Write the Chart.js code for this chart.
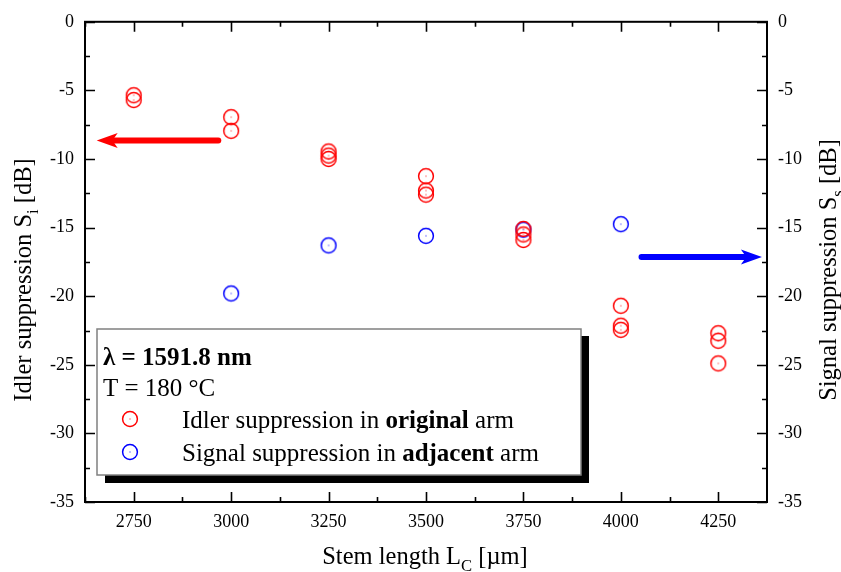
<!DOCTYPE html>
<html>
<head>
<meta charset="utf-8">
<script src="https://cdn.jsdelivr.net/npm/chart.js@4.4.1/dist/chart.umd.min.js"></script>
<style>
  html, body { margin: 0; padding: 0; background: #fff; }
  canvas { display: block; }
</style>
</head>
<body>
<canvas id="chart" width="841" height="572"></canvas>
<script>
// Stem length ticks and measured suppression values
const stemTicks = [2750, 3000, 3250, 3500, 3750, 4000, 4250];
const idlerStem = [2750, 2750, 3000, 3000, 3250, 3250, 3250, 3500, 3500, 3500,
                   3750, 3750, 3750, 4000, 4000, 4000, 4250, 4250, 4250];
const idlerDb = [-5.35, -5.7, -6.95, -7.95, -9.45, -9.75, -10.0, -11.25, -12.3, -12.6,
                 -15.1, -15.5, -15.9, -20.7, -22.15, -22.45, -22.7, -23.25, -24.9];
const signalStem = [3000, 3250, 3500, 3750, 4000];
const signalDb = [-19.8, -16.3, -15.6, -15.15, -14.75];

const FONT = "'Liberation Serif', 'Times New Roman', serif";
const RED = '#ff0000';
const BLUE = '#0000ff';

// open circle with a dot in the middle
function ringMarker(color) {
  const c = document.createElement('canvas');
  c.width = 20; c.height = 20;
  const g = c.getContext('2d');
  g.strokeStyle = color;
  g.lineWidth = 1.5;
  g.beginPath();
  g.arc(10, 10, 7.4, 0, Math.PI * 2);
  g.stroke();
  g.fillStyle = color;
  g.fillRect(9.5, 9.5, 1, 1);
  return c;
}
const redRing = ringMarker(RED);
const blueRing = ringMarker(BLUE);

const toPoints = (xs, ys) => xs.map((x, i) => ({ x: x, y: ys[i] }));

// text runs with optional bold / subscript parts
function drawRuns(ctx, runs, x, y, size, align) {
  const fontFor = r => (r.bold ? 'bold ' : '') + (r.sub ? size * 0.68 : size) + 'px ' + FONT;
  let total = 0;
  runs.forEach(r => { ctx.font = fontFor(r); total += ctx.measureText(r.text).width; });
  let cx = align === 'center' ? x - total / 2 : x;
  ctx.textAlign = 'left';
  ctx.textBaseline = 'alphabetic';
  runs.forEach(r => {
    ctx.font = fontFor(r);
    ctx.fillText(r.text, cx, y + (r.sub ? size * 0.3 : 0));
    cx += ctx.measureText(r.text).width;
  });
}

function drawArrow(ctx, x0, y0, x1, y1, color) {
  const dir = Math.sign(x1 - x0);
  const headLen = 21, halfW = 7.5;
  ctx.save();
  ctx.strokeStyle = color;
  ctx.fillStyle = color;
  ctx.lineWidth = 6;
  ctx.lineCap = 'round';
  ctx.beginPath();
  ctx.moveTo(x0, y0);
  ctx.lineTo(x1 - dir * headLen * 0.7, y1);
  ctx.stroke();
  ctx.beginPath();
  ctx.moveTo(x1, y1);
  ctx.lineTo(x1 - dir * headLen, y1 - halfW);
  ctx.lineTo(x1 - dir * headLen * 0.75, y1);
  ctx.lineTo(x1 - dir * headLen, y1 + halfW);
  ctx.closePath();
  ctx.fill();
  ctx.restore();
}

// arrows pointing at the axis each series belongs to (data units)
const arrows = [
  { from: [2967, -8.66], to: [2655, -8.66], color: RED, axis: 'y' },
  { from: [4053, -17.15], to: [4362, -17.15], color: BLUE, axis: 'y2' }
];

const framePlugin = {
  id: 'frame',
  afterDatasetsDraw(chart) {
    const { ctx, chartArea: a, scales } = chart;
    const x = scales.x, y = scales.y;
    ctx.save();
    ctx.strokeStyle = '#000';
    ctx.lineWidth = 2;
    ctx.strokeRect(a.left, a.top, a.right - a.left, a.bottom - a.top);

    // inward ticks, major and minor, on all four sides
    ctx.lineWidth = 1.6;
    ctx.beginPath();
    stemTicks.forEach(v => {
      [[v, 10], [v + 125, 5]].forEach(([val, len]) => {
        if (val >= x.max) return;
        const px = Math.round(x.getPixelForValue(val)) + 0.5;
        ctx.moveTo(px, a.bottom); ctx.lineTo(px, a.bottom - len);
        ctx.moveTo(px, a.top); ctx.lineTo(px, a.top + len);
      });
    });
    const v0 = stemTicks[0] - 125;
    const p0 = Math.round(x.getPixelForValue(v0)) + 0.5;
    ctx.moveTo(p0, a.bottom); ctx.lineTo(p0, a.bottom - 5);
    ctx.moveTo(p0, a.top); ctx.lineTo(p0, a.top + 5);
    for (let v = -35; v <= 0; v += 2.5) {
      const len = v % 5 === 0 ? 10 : 5;
      const py = Math.round(y.getPixelForValue(v)) + 0.5;
      ctx.moveTo(a.left, py); ctx.lineTo(a.left + len, py);
      ctx.moveTo(a.right, py); ctx.lineTo(a.right - len, py);
    }
    ctx.stroke();

    arrows.forEach(ar => {
      const ys = scales[ar.axis];
      drawArrow(ctx,
        x.getPixelForValue(ar.from[0]), ys.getPixelForValue(ar.from[1]),
        x.getPixelForValue(ar.to[0]), ys.getPixelForValue(ar.to[1]), ar.color);
    });
    ctx.restore();
  },
  afterDraw(chart) {
    const { ctx, chartArea: a } = chart;
    ctx.save();
    ctx.fillStyle = '#000';

    // axis titles
    drawRuns(ctx, [{ text: 'Stem length L' }, { text: 'C', sub: true }, { text: ' [µm]' }],
      425, 564, 24.5, 'center');

    ctx.save();
    ctx.translate(31, 280);
    ctx.rotate(-Math.PI / 2);
    drawRuns(ctx, [{ text: 'Idler suppression S' }, { text: 'i', sub: true }, { text: ' [dB]' }],
      0, 0, 24.5, 'center');
    ctx.restore();

    ctx.save();
    ctx.translate(836, 270);
    ctx.rotate(-Math.PI / 2);
    drawRuns(ctx, [{ text: 'Signal suppression S' }, { text: 's', sub: true }, { text: ' [dB]' }],
      0, 0, 24.5, 'center');
    ctx.restore();

    // legend box with drop shadow
    const bx = a.left + 12, by = 329, bw = 484, bh = 146;
    ctx.fillStyle = '#000';
    ctx.fillRect(bx + 8, by + 7, bw, bh + 1);
    ctx.fillStyle = '#fff';
    ctx.fillRect(bx, by, bw, bh);
    ctx.strokeStyle = '#808080';
    ctx.lineWidth = 1.5;
    ctx.strokeRect(bx, by, bw, bh);

    ctx.fillStyle = '#000';
    drawRuns(ctx, [{ text: 'λ = 1591.8 nm', bold: true }], bx + 6, by + 36, 25);
    drawRuns(ctx, [{ text: 'T = 180 °C' }], bx + 6, by + 67, 25);
    ctx.drawImage(redRing, bx + 23, by + 80);
    drawRuns(ctx, [{ text: 'Idler suppression in ' }, { text: 'original', bold: true }, { text: ' arm' }],
      bx + 85, by + 99, 25);
    ctx.drawImage(blueRing, bx + 23, by + 113);
    drawRuns(ctx, [{ text: 'Signal suppression in ' }, { text: 'adjacent', bold: true }, { text: ' arm' }],
      bx + 85, by + 132, 25);
    ctx.restore();
  }
};

const tickFont = { family: FONT, size: 18 };
const yAxis = (position, width) => ({
  type: 'linear',
  position: position,
  min: -35,
  max: 0,
  grid: { display: false, drawTicks: false },
  border: { display: false },
  ticks: { stepSize: 5, color: '#000', font: tickFont, padding: 11 },
  afterFit(scale) { scale.width = width; }
});

new Chart(document.getElementById('chart'), {
  type: 'scatter',
  data: {
    datasets: [
      {
        label: 'Idler suppression in original arm',
        data: toPoints(idlerStem, idlerDb),
        yAxisID: 'y',
        pointStyle: redRing,
        pointRadius: 8
      },
      {
        label: 'Signal suppression in adjacent arm',
        data: toPoints(signalStem, signalDb),
        yAxisID: 'y2',
        pointStyle: blueRing,
        pointRadius: 8
      }
    ]
  },
  options: {
    responsive: false,
    animation: false,
    events: [],
    layout: { padding: { top: 21, left: 0, right: 0, bottom: 0 } },
    plugins: { legend: { display: false }, tooltip: { enabled: false } },
    scales: {
      x: {
        type: 'linear',
        min: 2625,
        max: 4375,
        grid: { display: false, drawTicks: false },
        border: { display: false },
        ticks: { color: '#000', font: tickFont, padding: 9, callback: v => String(v) },
        afterBuildTicks(scale) { scale.ticks = stemTicks.map(v => ({ value: v })); },
        afterFit(scale) { scale.height = 70; }
      },
      y: yAxis('left', 85),
      y2: yAxis('right', 74)
    }
  },
  plugins: [framePlugin]
});
</script>
</body>
</html>
